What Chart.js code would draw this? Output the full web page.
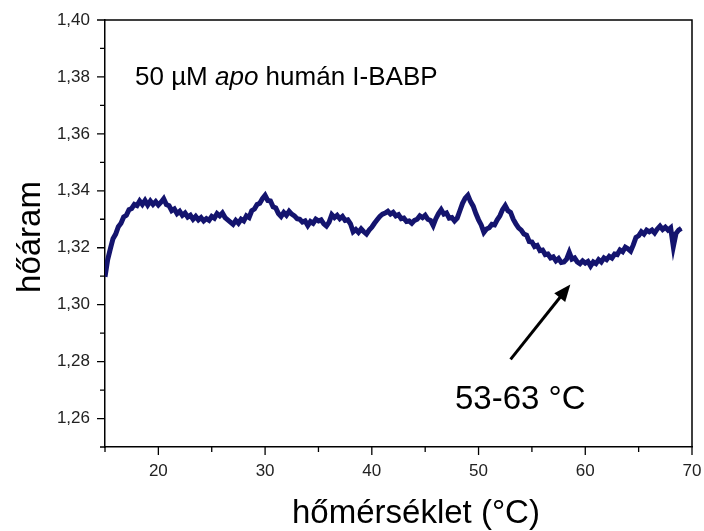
<!DOCTYPE html>
<html lang="hu">
<head>
<meta charset="UTF-8">
<title>hőáram</title>
<script src="https://cdn.jsdelivr.net/npm/chart.js"></script>
<style>
  body { margin: 0; background: #fff; }
  #doboz { width: 704px; height: 531px; }
</style>
</head>
<body>
<div id="doboz">
  <canvas id="myChart" width="704" height="531"></canvas>
</div>

<script>
// hőmérséklet (°C)
const hofok = [
  15.00, 15.25, 15.50, 15.75, 16.00, 16.25, 16.50, 16.75, 17.00, 17.25, 17.50, 17.75,
  18.00, 18.25, 18.50, 18.75, 19.00, 19.25, 19.50, 19.75, 20.00, 20.25, 20.50, 20.75,
  21.00, 21.25, 21.50, 21.75, 22.00, 22.25, 22.50, 22.75, 23.00, 23.25, 23.50, 23.75,
  24.00, 24.25, 24.50, 24.75, 25.00, 25.25, 25.50, 25.75, 26.00, 26.25, 26.50, 26.75,
  27.00, 27.25, 27.50, 27.75, 28.00, 28.25, 28.50, 28.75, 29.00, 29.25, 29.50, 29.75,
  30.00, 30.25, 30.50, 30.75, 31.00, 31.25, 31.50, 31.75, 32.00, 32.25, 32.50, 32.75,
  33.00, 33.25, 33.50, 33.75, 34.00, 34.25, 34.50, 34.75, 35.00, 35.25, 35.50, 35.75,
  36.00, 36.25, 36.50, 36.75, 37.00, 37.25, 37.50, 37.75, 38.00, 38.25, 38.50, 38.75,
  39.00, 39.25, 39.50, 39.75, 40.00, 40.25, 40.50, 40.75, 41.00, 41.25, 41.50, 41.75,
  42.00, 42.25, 42.50, 42.75, 43.00, 43.25, 43.50, 43.75, 44.00, 44.25, 44.50, 44.75,
  45.00, 45.25, 45.50, 45.75, 46.00, 46.25, 46.50, 46.75, 47.00, 47.25, 47.50, 47.75,
  48.00, 48.25, 48.50, 48.75, 49.00, 49.25, 49.50, 49.75, 50.00, 50.25, 50.50, 50.75,
  51.00, 51.25, 51.50, 51.75, 52.00, 52.25, 52.50, 52.75, 53.00, 53.25, 53.50, 53.75,
  54.00, 54.25, 54.50, 54.75, 55.00, 55.25, 55.50, 55.75, 56.00, 56.25, 56.50, 56.75,
  57.00, 57.25, 57.50, 57.75, 58.00, 58.25, 58.50, 58.75, 59.00, 59.25, 59.50, 59.75,
  60.00, 60.25, 60.50, 60.75, 61.00, 61.25, 61.50, 61.75, 62.00, 62.25, 62.50, 62.75,
  63.00, 63.25, 63.50, 63.75, 64.00, 64.25, 64.50, 64.75, 65.00, 65.25, 65.50, 65.75,
  66.00, 66.25, 66.50, 66.75, 67.00, 67.25, 67.50, 67.75, 68.00, 68.25, 68.50, 68.75,
  69.00
];

// hőáram
const hoaram = [
  1.3098, 1.3158, 1.3196, 1.3232, 1.3248, 1.3274, 1.3286, 1.3308, 1.3314, 1.3334, 1.3338, 1.3352,
  1.3348, 1.3364, 1.3352, 1.3366, 1.3350, 1.3364, 1.3352, 1.3362, 1.3350, 1.3360, 1.3372, 1.3352,
  1.3348, 1.3330, 1.3336, 1.3320, 1.3328, 1.3314, 1.3322, 1.3308, 1.3314, 1.3300, 1.3310, 1.3298,
  1.3306, 1.3294, 1.3302, 1.3296, 1.3310, 1.3304, 1.3320, 1.3312, 1.3322, 1.3306, 1.3298, 1.3290,
  1.3282, 1.3296, 1.3286, 1.3300, 1.3294, 1.3312, 1.3306, 1.3330, 1.3336, 1.3352, 1.3356, 1.3372,
  1.3384, 1.3366, 1.3364, 1.3344, 1.3340, 1.3320, 1.3310, 1.3324, 1.3314, 1.3328, 1.3318, 1.3312,
  1.3302, 1.3300, 1.3290, 1.3294, 1.3278, 1.3292, 1.3286, 1.3300, 1.3294, 1.3298, 1.3284, 1.3276,
  1.3290, 1.3316, 1.3306, 1.3314, 1.3302, 1.3310, 1.3296, 1.3298, 1.3284, 1.3256, 1.3264, 1.3254,
  1.3266, 1.3256, 1.3248, 1.3262, 1.3272, 1.3286, 1.3298, 1.3310, 1.3318, 1.3322, 1.3328, 1.3318,
  1.3324, 1.3312, 1.3316, 1.3302, 1.3304, 1.3292, 1.3294, 1.3286, 1.3296, 1.3300, 1.3312, 1.3306,
  1.3314, 1.3300, 1.3296, 1.3278, 1.3302, 1.3320, 1.3334, 1.3318, 1.3322, 1.3304, 1.3306, 1.3294,
  1.3304, 1.3330, 1.3356, 1.3374, 1.3384, 1.3362, 1.3346, 1.3320, 1.3298, 1.3280, 1.3254, 1.3266,
  1.3270, 1.3282, 1.3280, 1.3298, 1.3312, 1.3334, 1.3348, 1.3330, 1.3324, 1.3300, 1.3284, 1.3270,
  1.3262, 1.3248, 1.3244, 1.3222, 1.3220, 1.3204, 1.3208, 1.3190, 1.3192, 1.3176, 1.3178, 1.3164,
  1.3168, 1.3154, 1.3162, 1.3148, 1.3150, 1.3160, 1.3184, 1.3160, 1.3164, 1.3150, 1.3144, 1.3154,
  1.3146, 1.3152, 1.3136, 1.3150, 1.3144, 1.3158, 1.3150, 1.3164, 1.3158, 1.3170, 1.3164, 1.3178,
  1.3176, 1.3192, 1.3186, 1.3202, 1.3196, 1.3188, 1.3210, 1.3236, 1.3242, 1.3256, 1.3248, 1.3262,
  1.3256, 1.3262, 1.3252, 1.3266, 1.3276, 1.3264, 1.3272, 1.3262, 1.3270, 1.3204, 1.3250, 1.3262,
  1.3268
];

// tengely beosztások
const xFoTick = [20, 30, 40, 50, 60, 70];
const xMellekTick = [15, 25, 35, 45, 55, 65];
const yFoTick = [1.26, 1.28, 1.30, 1.32, 1.34, 1.36, 1.38, 1.40];
const yMellekTick = [1.25, 1.27, 1.29, 1.31, 1.33, 1.35, 1.37, 1.39];

// feliratok
const cimSzoveg = ['50 µM ', 'apo', ' humán I-BABP'];
const nyilSzoveg = '53-63 °C';
const nyilTol = [53.0, 1.2808];
const nyilIg = [58.6, 1.3071];
const xCim = 'hőmérséklet (°C)';
const yCim = 'hőáram';

const betu = 'Liberation Sans, Arial, sans-serif';

// keret, tick jelek, feliratok, nyíl
const rajzolo = {
  id: 'rajzolo',
  afterDraw(chart) {
    const ctx = chart.ctx;
    const a = chart.chartArea;
    const xs = chart.scales.x;
    const ys = chart.scales.y;
    ctx.save();

    ctx.strokeStyle = '#000';
    ctx.lineWidth = 1.5;
    ctx.beginPath();
    ctx.moveTo(a.left, a.top);
    ctx.lineTo(a.right, a.top);
    ctx.lineTo(a.right, a.bottom);
    ctx.stroke();

    // tick jelek kifelé
    ctx.lineWidth = 1.3;
    ctx.beginPath();
    xFoTick.forEach(v => { let p = xs.getPixelForValue(v); ctx.moveTo(p, a.bottom); ctx.lineTo(p, a.bottom + 8); });
    xMellekTick.forEach(v => { let p = xs.getPixelForValue(v); ctx.moveTo(p, a.bottom); ctx.lineTo(p, a.bottom + 5); });
    yFoTick.forEach(v => { let p = ys.getPixelForValue(v); ctx.moveTo(a.left, p); ctx.lineTo(a.left - 8, p); });
    yMellekTick.forEach(v => { let p = ys.getPixelForValue(v); ctx.moveTo(a.left, p); ctx.lineTo(a.left - 5, p); });
    ctx.stroke();

    ctx.fillStyle = '#000';
    ctx.textBaseline = 'alphabetic';

    // minta felirat, az "apo" dőlt
    let x = 135;
    const fontok = ['26px ' + betu, 'italic 26px ' + betu, '26px ' + betu];
    cimSzoveg.forEach((t, i) => {
      ctx.font = fontok[i];
      ctx.textAlign = 'left';
      ctx.fillText(t, x, 85);
      x += ctx.measureText(t).width;
    });

    // nyíl
    const x1 = xs.getPixelForValue(nyilTol[0]), y1 = ys.getPixelForValue(nyilTol[1]);
    const x2 = xs.getPixelForValue(nyilIg[0]), y2 = ys.getPixelForValue(nyilIg[1]);
    const szog = Math.atan2(y2 - y1, x2 - x1);
    ctx.lineWidth = 3;
    ctx.beginPath();
    ctx.moveTo(x1, y1);
    ctx.lineTo(x2 - 10 * Math.cos(szog), y2 - 10 * Math.sin(szog));
    ctx.stroke();
    ctx.beginPath();
    ctx.moveTo(x2, y2);
    ctx.lineTo(x2 - 17 * Math.cos(szog) + 7 * Math.sin(szog), y2 - 17 * Math.sin(szog) - 7 * Math.cos(szog));
    ctx.lineTo(x2 - 17 * Math.cos(szog) - 7 * Math.sin(szog), y2 - 17 * Math.sin(szog) + 7 * Math.cos(szog));
    ctx.closePath();
    ctx.fill();

    ctx.font = '33px ' + betu;
    ctx.textAlign = 'left';
    ctx.fillText(nyilSzoveg, 455, 409);

    // tengely címek
    ctx.fillText(xCim, 292, 523);
    ctx.translate(40, 237);
    ctx.rotate(-Math.PI / 2);
    ctx.textAlign = 'center';
    ctx.fillText(yCim, 0, 0);

    ctx.restore();
  }
};

const config = {
  type: 'line',
  data: {
    labels: hofok,
    datasets: [{
      data: hoaram,
      borderColor: '#14146e',
      borderWidth: 5,
      pointRadius: 0,
      tension: 0
    }, {
      data: hoaram,
      borderColor: '#05051c',
      borderWidth: 1.3,
      pointRadius: 0,
      tension: 0
    }]
  },
  options: {
    responsive: false,
    animation: false,
    devicePixelRatio: 1,
    layout: { padding: { top: 20, right: 12, left: 0, bottom: 0 } },
    plugins: { legend: { display: false }, tooltip: { enabled: false } },
    scales: {
      x: {
        type: 'linear',
        min: 15,
        max: 70,
        grid: { display: false },
        border: { display: true, color: '#000', width: 1.5 },
        afterBuildTicks: s => { s.ticks = xFoTick.map(v => ({ value: v })); },
        afterFit: s => { s.height = 84; s.paddingLeft = 0; s.paddingRight = 0; },
        ticks: { color: '#222', padding: 6, font: { family: betu, size: 17 }, maxRotation: 0 }
      },
      y: {
        min: 1.25,
        max: 1.40,
        grid: { display: false },
        border: { display: true, color: '#000', width: 1.5 },
        afterBuildTicks: s => { s.ticks = yFoTick.map(v => ({ value: v })); },
        afterFit: s => { s.width = 105; s.paddingTop = 0; s.paddingBottom = 0; },
        ticks: {
          color: '#222',
          padding: 7,
          font: { family: betu, size: 17 },
          callback: v => v.toFixed(2).replace('.', ',')
        }
      }
    }
  },
  plugins: [rajzolo]
};

let myChart = new Chart(document.getElementById('myChart'), config);
</script>
</body>
</html>
